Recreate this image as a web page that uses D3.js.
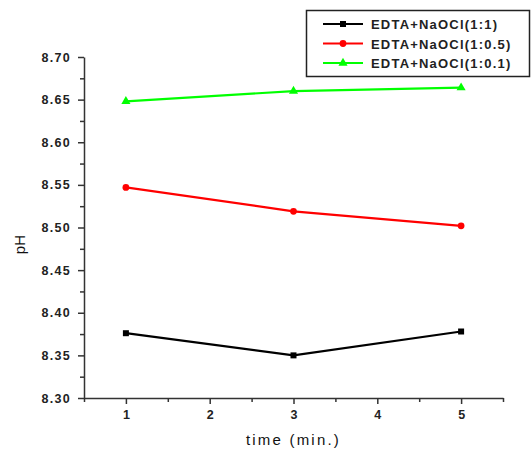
<!DOCTYPE html>
<html>
<head>
<meta charset="utf-8">
<script src="https://cdn.jsdelivr.net/npm/d3@7"></script>
<style>
  body { margin: 0; background: #fff; }
  text { font-family: "Liberation Sans", Arial, sans-serif; }
</style>
</head>
<body>
<div id="chart-area"></div>
<script>
// data
const times = [1, 3, 5]
const ph11 = [8.376, 8.350, 8.378]
const ph105 = [8.547, 8.519, 8.502]
const ph101 = [8.648, 8.660, 8.664]
const seriesNames = ["EDTA+NaOCl(1:1)", "EDTA+NaOCl(1:0.5)", "EDTA+NaOCl(1:0.1)"]
const xTicks = [1, 2, 3, 4, 5]
const yTicks = [8.30, 8.35, 8.40, 8.45, 8.50, 8.55, 8.60, 8.65, 8.70]

const W = 531, H = 454
const MARGIN = { LEFT: 84, RIGHT: 28, TOP: 57, BOTTOM: 56 }
const WIDTH = W - MARGIN.LEFT - MARGIN.RIGHT
const HEIGHT = H - MARGIN.TOP - MARGIN.BOTTOM

const svg = d3.select("#chart-area").append("svg")
    .attr("width", W)
    .attr("height", H)

const g = svg.append("g")
    .attr("transform", `translate(${MARGIN.LEFT}, ${MARGIN.TOP})`)

const x = d3.scaleLinear().domain([0.5, 5.5]).range([0, WIDTH])
const y = d3.scaleLinear().domain([8.30, 8.70]).range([HEIGHT, 0])

// minor ticks first
const xMinor = d3.range(0.5, 5.51, 0.5).filter(v => !xTicks.includes(v))
g.append("g")
    .attr("transform", `translate(0, ${HEIGHT})`)
    .call(d3.axisBottom(x).tickValues(xMinor).tickSize(4).tickFormat(""))
    .call(a => a.select(".domain").remove())
    .selectAll("line").attr("stroke", "#333").attr("stroke-width", 1.5)

const yMinor = d3.range(8.325, 8.70, 0.05)
g.append("g")
    .call(d3.axisLeft(y).tickValues(yMinor).tickSize(4).tickFormat(""))
    .call(a => a.select(".domain").remove())
    .selectAll("line").attr("stroke", "#333").attr("stroke-width", 1.5)

// major axes
const xAxis = g.append("g")
    .attr("transform", `translate(0, ${HEIGHT})`)
    .call(d3.axisBottom(x).tickValues(xTicks).tickSize(6).tickSizeOuter(0).tickFormat(d3.format("d")))
xAxis.select(".domain").attr("stroke", "#333").attr("stroke-width", 1.5)
xAxis.selectAll("line").attr("stroke", "#333").attr("stroke-width", 1.5)
xAxis.selectAll("text")
    .attr("y", 12)
    .attr("font-size", "12.5px")
    .attr("font-weight", "bold")
    .attr("fill", "#222")

const yAxis = g.append("g")
    .call(d3.axisLeft(y).tickValues(yTicks).tickSize(6).tickSizeOuter(0).tickFormat(d3.format(".2f")))
yAxis.select(".domain").attr("stroke", "#333").attr("stroke-width", 1.5)
yAxis.selectAll("line").attr("stroke", "#333").attr("stroke-width", 1.5)
yAxis.selectAll("text")
    .attr("x", -13)
    .attr("font-size", "12.5px")
    .attr("font-weight", "bold")
    .attr("letter-spacing", "1.3px")
    .attr("fill", "#222")

// axis labels
g.append("text")
    .attr("x", x(3))
    .attr("y", HEIGHT + 47)
    .attr("text-anchor", "middle")
    .attr("font-size", "15px")
    .attr("letter-spacing", "2.2px")
    .attr("fill", "#111")
    .text("time (min.)")

g.append("text")
    .attr("transform", `translate(${-59}, ${y(8.48)}) rotate(-90)`)
    .attr("text-anchor", "middle")
    .attr("font-size", "15px")
    .attr("fill", "#111")
    .text("pH")

// series
const series = [
    { name: seriesNames[0], values: ph11, color: "#000000", marker: d3.symbolSquare },
    { name: seriesNames[1], values: ph105, color: "#ff0000", marker: d3.symbolCircle },
    { name: seriesNames[2], values: ph101, color: "#00ff00", marker: d3.symbolTriangle }
]

const line = d3.line()
    .x((d, i) => x(times[i]))
    .y(d => y(d))

series.forEach(s => {
    g.append("path")
        .datum(s.values)
        .attr("fill", "none")
        .attr("stroke", s.color)
        .attr("stroke-width", 2.2)
        .attr("d", line)
    g.selectAll(null)
        .data(s.values)
        .enter().append("path")
        .attr("transform", (d, i) => `translate(${x(times[i])}, ${y(d)})`)
        .attr("d", d3.symbol().type(s.marker).size(36))
        .attr("fill", s.color)
})

// legend
const legend = svg.append("g")
legend.append("rect")
    .attr("x", 306.5).attr("y", 10.5)
    .attr("width", 223).attr("height", 66)
    .attr("fill", "#fff")
    .attr("stroke", "#222")
    .attr("stroke-width", 1.5)

series.forEach((s, i) => {
    const ly = 24 + i * 19.5
    legend.append("line")
        .attr("x1", 323).attr("x2", 363)
        .attr("y1", ly).attr("y2", ly)
        .attr("stroke", s.color)
        .attr("stroke-width", 2.2)
    legend.append("path")
        .attr("transform", `translate(343, ${ly})`)
        .attr("d", d3.symbol().type(s.marker).size(36))
        .attr("fill", s.color)
    legend.append("text")
        .attr("x", 371)
        .attr("y", ly + 5)
        .attr("font-size", "13px")
        .attr("font-weight", "bold")
        .attr("letter-spacing", "1.2px")
        .attr("fill", "#222")
        .text(s.name)
})
</script>
</body>
</html>
